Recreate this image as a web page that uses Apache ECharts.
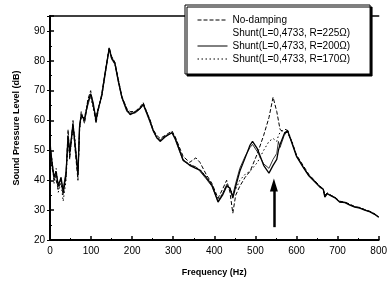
<!DOCTYPE html>
<html>
<head>
<meta charset="utf-8">
<script src="https://cdn.jsdelivr.net/npm/echarts@6/dist/echarts.min.js"></script>
<style>
html,body{margin:0;padding:0;background:#fff;}
#chart{width:390px;height:282px;}
</style>
</head>
<body>
<div id="chart"></div>
<script>
// Frequency (Hz)
var freq = [
  0, 5, 10, 15, 20, 27, 32, 39, 44, 48,
  56, 60, 68, 72, 76, 84, 92, 99, 105, 112,
  117, 126, 134, 144, 150, 158, 166, 175, 187, 195,
  207, 219, 227, 236, 243, 251, 260, 268, 280, 297,
  305, 324, 340, 355, 365, 380, 394, 409, 420, 430,
  438, 445, 452, 462, 475, 487, 493, 505, 520, 533,
  543, 552, 556, 560, 570, 578, 590, 600, 616, 630,
  645, 657, 665, 669, 675, 681, 695, 705, 718, 730,
  742, 754, 766, 779, 790, 800
];
// Sound pressure level (dB)
var noDamping = [
  54, 44, 42, 40, 37, 40, 35, 41, 57, 47,
  60, 52, 40, 57, 63, 59, 67, 70, 65, 59,
  63, 69, 76, 84.5, 81.5, 79.5, 74, 68, 64, 63,
  63, 64.5, 66, 62.5, 60.5, 57, 55, 54, 55, 56.5,
  54.5, 48, 46, 47.5, 46, 42, 39, 34, 37, 40,
  36, 29, 35, 38, 41, 43, 45, 49, 55, 61,
  67.8, 63, 60, 57, 56, 56, 52.5, 48.5, 45, 42,
  39.8, 38, 37.2, 35, 35.8, 35.2, 34.2, 33, 32.7, 32,
  31.2, 30.9, 30.2, 29.6, 28.8, 27.8
];
var shunt225 = [
  51, 45, 40, 42, 39, 40, 37, 43, 54, 50,
  58, 54, 43, 59, 61, 61, 65, 68.5, 65, 61,
  64, 68, 75, 83.8, 80.5, 78.8, 73, 67.5, 63, 62.5,
  62.5, 63.8, 65.2, 62, 59.5, 56.5, 54, 53.5, 54.8, 55.8,
  53.5, 46.5, 45.2, 44.5, 43, 40.5, 38, 33, 35.5, 38.5,
  37, 35, 39, 44, 48, 51, 52, 49.5, 45.5, 44,
  47, 49, 53, 51, 55, 56.5, 52.3, 48.2, 44.6, 41.7,
  39.6, 37.9, 37.1, 34.5, 35.6, 35.1, 34.1, 32.8, 32.6, 31.8,
  31.1, 30.8, 30.1, 29.5, 28.7, 27.7
];
var shunt200 = [
  52, 46, 41, 43, 38, 41, 36, 42, 55, 49,
  59, 53, 42, 58, 62, 60, 66, 69, 66, 60,
  63.5, 68.5, 75.8, 84.2, 81, 79.2, 73.5, 67.8, 63.5, 62,
  62.8, 64, 65.5, 62.5, 60, 56.8, 54.3, 53, 54.5, 56,
  54, 46.8, 45, 44, 43.4, 41, 38.4, 32.7, 35, 38,
  37.4, 34, 38, 43, 47.5, 51.8, 53, 50.5, 45, 42.4,
  45, 47, 50, 52, 55.5, 56.8, 52, 48, 44.4, 41.5,
  39.4, 37.7, 37, 34.4, 35.5, 35, 34, 32.7, 32.5, 31.7,
  31, 30.7, 30, 29.4, 28.6, 27.6
];
var shunt170 = [
  50, 47, 39, 44, 36, 39, 33, 40, 53, 48,
  57, 55, 41, 57, 61, 61, 66.5, 68, 64, 61,
  64, 68, 75.5, 84, 80.8, 79, 73.8, 68, 63.8, 62.3,
  63, 64.2, 65.3, 62.8, 60.2, 56.5, 54.5, 53.2, 54.6, 56,
  54.2, 47, 45.3, 44.3, 43.6, 41.3, 38.6, 33.5, 35.5, 38.5,
  37.5, 35, 37, 40, 42, 43, 44, 46, 50, 53,
  54, 53, 55, 56, 57, 57, 52.5, 48, 44.5, 41.6,
  39.5, 37.8, 37.1, 34.6, 35.6, 35.1, 34.1, 32.8, 32.6, 31.8,
  31.1, 30.8, 30.1, 29.5, 28.7, 27.7
];
var seriesNames = [
  'No-damping',
  'Shunt(L=0,4733, R=225\u03A9)',
  'Shunt(L=0,4733, R=200\u03A9)',
  'Shunt(L=0,4733, R=170\u03A9)'
];
// Arrow marking the tuned frequency
var arrowFreq = 545;
var arrowFrom = 24.3;
var arrowTo = 38.4;

function pairs(vals) {
  return freq.map(function (f, i) { return [f, vals[i]]; });
}

var FONT = 'Liberation Sans';
var chart = echarts.init(document.getElementById('chart'), null, {renderer: 'canvas'});

function lineSeries(name, vals, type, width, z) {
  return {
    name: name,
    type: 'line',
    data: pairs(vals),
    symbol: 'none',
    smooth: false,
    z: z,
    lineStyle: {color: '#000', width: width, type: type},
    itemStyle: {color: '#000'},
    emphasis: {disabled: true},
    animation: false
  };
}

var s200 = lineSeries(seriesNames[2], shunt200, 'solid', 1.3, 5);
s200.markLine = {
  silent: true,
  symbol: ['none', 'triangle'],
  symbolSize: [8, 13],
  label: {show: false},
  lineStyle: {color: '#000', width: 2.5, type: 'solid'},
  animation: false,
  data: [[{coord: [arrowFreq, arrowFrom]}, {coord: [arrowFreq, arrowTo]}]]
};

var option = {
  animation: false,
  backgroundColor: '#fff',
  textStyle: {fontFamily: FONT, color: '#000'},
  grid: {left: 50, right: 11, top: 16, bottom: 42, containLabel: false},
  legend: {
    orient: 'vertical',
    left: 185,
    top: 5,
    padding: [10, 20, 10, 12],
    itemGap: 3,
    itemWidth: 30,
    itemHeight: 10,
    backgroundColor: '#fff',
    borderColor: '#000',
    borderWidth: 1,
    shadowColor: '#000',
    shadowBlur: 0,
    shadowOffsetX: 2,
    shadowOffsetY: 2,
    z: 10,
    selectedMode: false,
    itemStyle: {opacity: 0},
    lineStyle: {width: 1},
    textStyle: {fontFamily: FONT, fontSize: 10, color: '#000'},
    data: [
      {name: seriesNames[0]},
      {name: seriesNames[1], icon: 'none'},
      {name: seriesNames[2]},
      {name: seriesNames[3]}
    ]
  },
  xAxis: [{
    type: 'value',
    min: 0, max: 800, interval: 100,
    name: 'Frequency (Hz)',
    nameLocation: 'middle',
    nameGap: 28,
    nameTextStyle: {fontFamily: FONT, fontSize: 9, fontWeight: 'bold', color: '#000'},
    axisLine: {show: true, lineStyle: {color: '#000', width: 2}},
    axisTick: {show: true, inside: true, length: 4, lineStyle: {color: '#000', width: 1.5}},
    minorTick: {show: true, splitNumber: 2, length: 2, lineStyle: {color: '#000', width: 1}},
    axisLabel: {fontFamily: FONT, fontSize: 10, color: '#000', margin: 6},
    splitLine: {show: false}
  }, {
    type: 'value', position: 'top',
    min: 0, max: 800, interval: 100,
    axisLine: {show: true, lineStyle: {color: '#000', width: 1.5}},
    axisTick: {show: false},
    axisLabel: {show: false},
    splitLine: {show: false}
  }],
  yAxis: [{
    type: 'value',
    min: 20, max: 95, interval: 10,
    name: 'Sound Pressure Level (dB)',
    nameLocation: 'middle',
    nameGap: 29,
    nameTextStyle: {fontFamily: FONT, fontSize: 9, fontWeight: 'bold', color: '#000'},
    axisLine: {show: true, lineStyle: {color: '#000', width: 2}},
    axisTick: {show: true, inside: true, length: 4, lineStyle: {color: '#000', width: 1.5}},
    minorTick: {show: true, splitNumber: 2, length: 2, lineStyle: {color: '#000', width: 1}},
    axisLabel: {fontFamily: FONT, fontSize: 10, color: '#000', margin: 5, showMaxLabel: false},
    splitLine: {show: false}
  }, {
    type: 'value', position: 'right',
    min: 20, max: 95, interval: 10,
    axisLine: {show: true, lineStyle: {color: '#000', width: 1.5}},
    axisTick: {show: true, inside: true, length: 3, lineStyle: {color: '#000'}},
    axisLabel: {show: false},
    splitLine: {show: false}
  }],
  series: [
    lineSeries(seriesNames[0], noDamping, [4, 2], 1, 3),
    lineSeries(seriesNames[1], shunt225, 'solid', 0.8, 4),
    s200,
    lineSeries(seriesNames[3], shunt170, [1.5, 2.5], 1, 2)
  ]
};
chart.setOption(option);
</script>
</body>
</html>
